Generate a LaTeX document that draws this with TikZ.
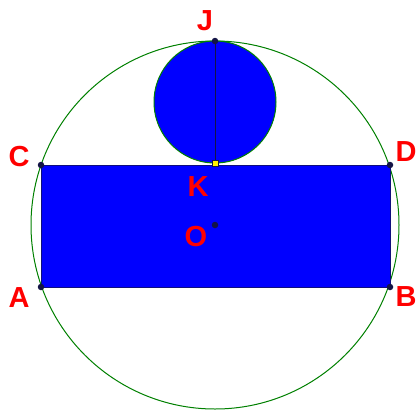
\documentclass[tikz,border=0pt]{standalone}
\usepackage{fontspec}
\setmainfont{Liberation Sans}
\definecolor{geogreen}{RGB}{0,128,0}
\definecolor{geoblue}{RGB}{0,0,255}
\definecolor{ptdark}{RGB}{20,20,70}
\definecolor{lbl}{RGB}{255,0,0}
\tikzset{
  lab/.style={text=lbl,font=\fontsize{29}{29}\selectfont\bfseries,inner sep=0pt},
  pt/.style={circle,fill=ptdark,inner sep=0pt,minimum size=6.5pt},
  ypt/.style={rectangle,fill=yellow,draw=ptdark,line width=0.5pt,inner sep=0pt,minimum size=6pt},
  geocirc/.style={draw=geogreen,line width=1pt},
}
\begin{document}
\begin{tikzpicture}[x=1pt,y=-1pt]
\useasboundingbox (0,0) rectangle (420,410);
% big circle
\coordinate (Oc) at (215,225);
\draw[geocirc] (Oc) circle[radius=184];
% rectangle
\fill[geoblue,draw=ptdark!70!geoblue,line width=0.7pt] (41,165) rectangle (390,287);
% small circle
\fill[geoblue] (215,102) circle[radius=61];
\draw[geocirc] (215,102) circle[radius=61];
% points
\node[pt] (J) at (215,41) {};
\node[pt] (O) at (215,225) {};
\node[pt] (C) at (41,165) {};
\node[pt] (D) at (390,165) {};
\node[pt] (A) at (41,287) {};
\node[pt] (B) at (390,287) {};
\draw[ptdark,line width=0.8pt] (J.center) -- (215,163);
\node[ypt] (K) at (215,163) {};
% labels
\node[lab] (lJ) at (205,21) {J};
\node[lab] (lC) at (19,157) {C};
\node[lab] (lD) at (406,152) {D};
\node[lab] (lK) at (198,187) {K};
\node[lab] (lO) at (196,237) {O};
\node[lab] (lA) at (19,298) {A};
\node[lab] (lB) at (406,297) {B};
\end{tikzpicture}
\end{document}
